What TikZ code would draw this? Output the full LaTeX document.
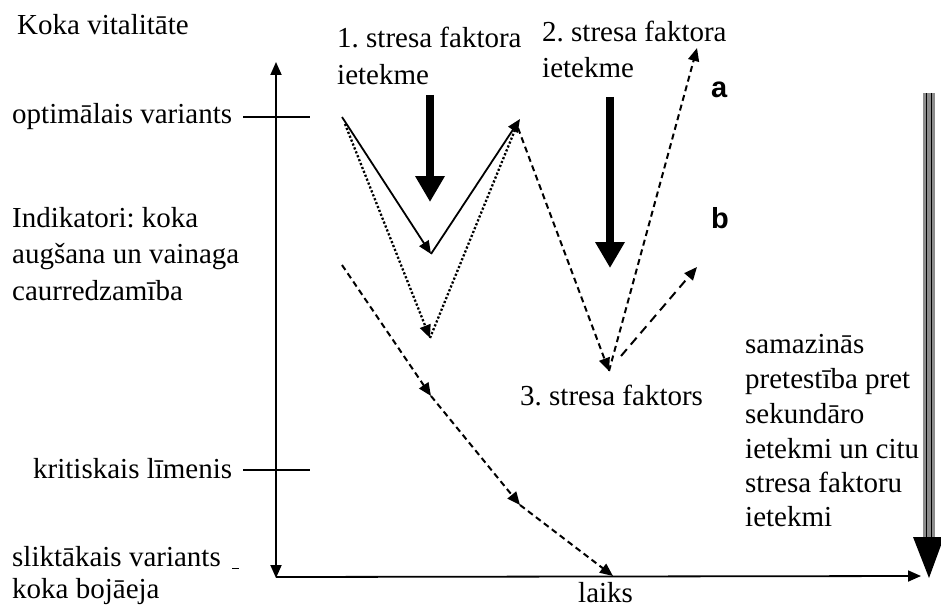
\documentclass[tikz,border=0pt]{standalone}
\usepackage{fontspec}
\setmainfont{Liberation Serif}
\newfontfamily\serifmain{Liberation Serif}
\newfontfamily\labelsans{Liberation Sans}
\usetikzlibrary{arrows.meta}
\frenchspacing
\begin{document}
\begin{tikzpicture}[x=1pt,y=-1pt,
  txt/.style={anchor=base west, inner sep=0pt, font=\serifmain\fontsize{29}{35}\selectfont},
  lett/.style={anchor=base west, inner sep=0pt, font=\labelsans\bfseries\fontsize{29}{35}\selectfont},
  axisline/.style={line width=1.8pt},
  tiphead/.style={-{Triangle[length=13pt,width=11pt]}},
  solidpath/.style={line width=1.8pt},
  dotpath/.style={line width=2.3pt, dash pattern=on 2.2pt off 2pt},
  dashpath/.style={line width=2pt, dash pattern=on 6pt off 4pt},
  longdash/.style={line width=2pt, dash pattern=on 9pt off 6pt},
  bigarrow/.style={line width=7.5pt, -{Triangle[length=26pt,width=28pt]}},
]
\useasboundingbox (0,0) rectangle (941,607);

% key points
\coordinate (axtop) at (276,62);
\coordinate (axmid) at (276,300);
\coordinate (axbot) at (276,578);
\coordinate (orig) at (276,577);
\coordinate (axright) at (921,576);
\coordinate (optL) at (243,117);
\coordinate (optR) at (310,117);
\coordinate (kritL) at (243,470);
\coordinate (kritR) at (310,470);
\coordinate (dashA) at (232,568);
\coordinate (dashB) at (239,568);

\coordinate (s0) at (342,117);
\coordinate (s1) at (431,254);
\coordinate (peak) at (520,119);
\coordinate (peakdot) at (517,125);
\coordinate (peakdash) at (518,128);
\coordinate (d0) at (345,124);
\coordinate (d1) at (430,338);
\coordinate (v3) at (609,371);
\coordinate (atip) at (697,48);
\coordinate (b0) at (621,356);
\coordinate (btip) at (697,267);
\coordinate (c0) at (342,265);
\coordinate (c1) at (431,396);
\coordinate (c2) at (520,505);
\coordinate (c3) at (613,576);

\coordinate (f1top) at (430,95);
\coordinate (f1tip) at (430,202);
\coordinate (f2top) at (610,97);
\coordinate (f2tip) at (610,268);
\coordinate (rtop) at (929,93);
\coordinate (rbase) at (929,537);
\coordinate (rbaseL) at (913,537);
\coordinate (rbaseR) at (944,537);
\coordinate (rtip) at (929,578);

% axes
\draw[axisline, tiphead] (axmid) -- (axtop);
\draw[axisline, tiphead] (axmid) -- (axbot);
\draw[axisline, tiphead] (orig) -- (axright);
\draw[line width=1.3pt] (optL) -- (optR);
\draw[line width=1.3pt] (kritL) -- (kritR);
\draw[line width=1pt] (dashA) -- (dashB);

% solid V
\draw[solidpath, tiphead] (s0) -- (s1);
\draw[solidpath, tiphead] (s1) -- (peak);
% dotted V
\draw[dotpath, tiphead] (d0) -- (d1);
\draw[dotpath] (d1) -- (peakdot);
% dashed V after peak
\draw[dashpath, tiphead] (peakdash) -- (v3);
\draw[dashpath, tiphead] (v3) -- (atip);
\draw[longdash, tiphead] (b0) -- (btip);
% declining curve
\draw[dashpath, tiphead] (c0) -- (c1);
\draw[dashpath, tiphead] (c1) -- (c2);
\draw[dashpath, tiphead] (c2) -- (c3);

% big stress arrows
\draw[bigarrow] (f1top) -- (f1tip);
\draw[bigarrow] (f2top) -- (f2tip);

% right triple-line arrow
\draw[line width=12pt, black!45] (rtop) -- (rbase);
\draw[line width=1.8pt, black] ([xshift=-2.5pt]rtop) -- ([xshift=-2.5pt]rbase);
\draw[line width=1.8pt, black] ([xshift=2.5pt]rtop) -- ([xshift=2.5pt]rbase);
\fill[black] (rbaseL) -- (rbaseR) -- (rtip) -- cycle;

% texts
\node[txt] (kv) at (17,35) {Koka vitalitāte};
\node[txt] (s1a) at (337,48) {1. stresa faktora};
\node[txt] (s1b) at (337,85) {ietekme};
\node[txt] (s2a) at (542,42) {2. stresa faktora};
\node[txt] (s2b) at (542,78) {ietekme};
\node[lett] (la) at (711,98) {a};
\node[lett] (lb) at (711,228) {b};
\node[txt] (opt) at (12,123) {optimālais variants};
\node[txt] (ind1) at (12,227) {Indikatori: koka};
\node[txt] (ind2) at (12,263) {augšana un vainaga};
\node[txt] (ind3) at (12,300) {caurredzamība};
\node[txt] (s3) at (520,405) {3. stresa faktors};
\node[txt] (r1) at (745,353) {samazinās};
\node[txt] (r2) at (745,388) {pretestība pret};
\node[txt] (r3) at (745,423) {sekundāro};
\node[txt] (r4) at (745,458) {ietekmi un citu};
\node[txt] (r5) at (745,492) {stresa faktoru};
\node[txt] (r6) at (745,526) {ietekmi};
\node[txt] (krit) at (33,478) {kritiskais līmenis};
\node[txt] (sl1) at (12,566) {sliktākais variants};
\node[txt] (sl2) at (12,598) {koka bojāeja};
\node[txt] (laiks) at (578,602) {laiks};
\end{tikzpicture}
\end{document}
